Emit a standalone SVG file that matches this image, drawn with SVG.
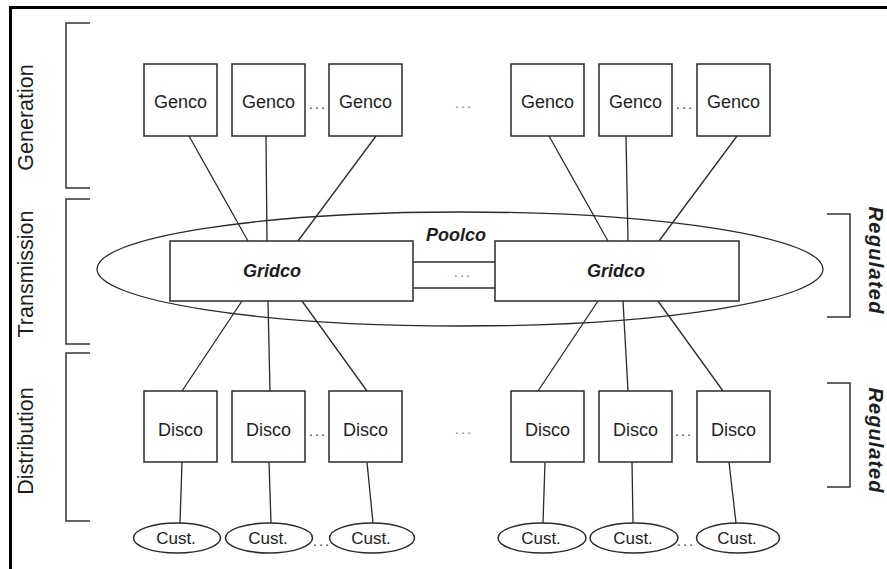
<svg xmlns="http://www.w3.org/2000/svg" width="887" height="569" viewBox="0 0 887 569">
<style>
.box{fill:#fff;stroke:#2a2a2a;stroke-width:1.5}
.ln{stroke:#2a2a2a;stroke-width:1.3;fill:none}
.br{stroke:#333;stroke-width:1.5;fill:none}
.t{font-family:"Liberation Sans",Arial,sans-serif;font-size:18px;fill:#1e1e1e;text-anchor:middle}
.bi{font-family:"Liberation Sans",Arial,sans-serif;font-size:18px;font-weight:bold;font-style:italic;fill:#1e1e1e;text-anchor:middle}
.side{font-family:"Liberation Sans",Arial,sans-serif;font-size:21.5px;fill:#1e1e1e;text-anchor:middle}
.dots{font-family:"Liberation Sans",Arial,sans-serif;font-size:15px;fill:#444;text-anchor:middle;letter-spacing:2px}
.dotsl{font-family:"Liberation Sans",Arial,sans-serif;font-size:15px;fill:#888;text-anchor:middle;letter-spacing:2px}
</style>
<rect width="887" height="569" fill="#fff"/>
<path d="M10.5,575 V7.5 H895" fill="none" stroke="#000" stroke-width="3"/>

<!-- side brackets and labels -->
<g id="brackets">
<path class="br" d="M90,23 H66 V188 H90"/>
<path class="br" d="M90,199 H66 V344 H90"/>
<path class="br" d="M90,353 H66 V521 H90"/>
<path class="br" d="M827,214 H850 V317 H827"/>
<path class="br" d="M827,383 H850 V487 H827"/>
</g>
<text class="side" transform="translate(33,117.5) rotate(-90)">Generation</text>
<text class="side" transform="translate(33,274) rotate(-90)">Transmission</text>
<text class="side" transform="translate(33,441) rotate(-90)">Distribution</text>
<text class="bi" font-size="20" textLength="107" transform="translate(869,260) rotate(90)" style="font-size:20px">Regulated</text>
<text class="bi" font-size="20" textLength="105" transform="translate(869,440) rotate(90)" style="font-size:20px">Regulated</text>

<!-- Poolco ellipse -->
<g id="poolco">
<ellipse cx="460" cy="269" rx="363" ry="57" fill="none" stroke="#2a2a2a" stroke-width="1.3"/>
<text class="bi" x="456" y="241">Poolco</text>
</g>

<!-- connectors -->
<g id="connectors">
<line class="ln" x1="189" y1="136" x2="248" y2="241"/>
<line class="ln" x1="266" y1="136" x2="267" y2="241"/>
<line class="ln" x1="376" y1="136" x2="298" y2="241"/>
<line class="ln" x1="549" y1="136" x2="608" y2="241"/>
<line class="ln" x1="626" y1="136" x2="628" y2="241"/>
<line class="ln" x1="737" y1="136" x2="659" y2="241"/>
<line class="ln" x1="242" y1="301" x2="182" y2="391"/>
<line class="ln" x1="268" y1="301" x2="270" y2="391"/>
<line class="ln" x1="302" y1="301" x2="367" y2="391"/>
<line class="ln" x1="598" y1="301" x2="538" y2="391"/>
<line class="ln" x1="623" y1="301" x2="628" y2="391"/>
<line class="ln" x1="658" y1="301" x2="723" y2="391"/>
<line class="ln" x1="413" y1="262" x2="495" y2="262"/>
<line class="ln" x1="413" y1="288" x2="495" y2="288"/>
<line class="ln" x1="182" y1="462" x2="180" y2="523"/>
<line class="ln" x1="269" y1="462" x2="271" y2="523"/>
<line class="ln" x1="367" y1="462" x2="373" y2="523"/>
<line class="ln" x1="545" y1="462" x2="543" y2="523"/>
<line class="ln" x1="632" y1="462" x2="633" y2="523"/>
<line class="ln" x1="729" y1="462" x2="736" y2="523"/>
</g>

<!-- Gencos -->
<g id="genco1"><rect class="box" x="144" y="64" width="73" height="72"/><text class="t" x="180.5" y="108">Genco</text></g>
<g id="genco2"><rect class="box" x="232" y="64" width="73" height="72"/><text class="t" x="268.5" y="108">Genco</text></g>
<g id="genco3"><rect class="box" x="329" y="64" width="73" height="72"/><text class="t" x="365.5" y="108">Genco</text></g>
<g id="genco4"><rect class="box" x="511" y="64" width="73" height="72"/><text class="t" x="547.5" y="108">Genco</text></g>
<g id="genco5"><rect class="box" x="599" y="64" width="73" height="72"/><text class="t" x="635.5" y="108">Genco</text></g>
<g id="genco6"><rect class="box" x="697" y="64" width="73" height="72"/><text class="t" x="733.5" y="108">Genco</text></g>

<!-- Gridcos -->
<g id="gridco1"><rect class="box" x="170" y="241" width="243" height="60"/><text class="bi" x="272" y="277">Gridco</text></g>
<g id="gridco2"><rect class="box" x="495" y="241" width="244" height="60"/><text class="bi" x="616" y="277">Gridco</text></g>

<!-- Discos -->
<g id="disco1"><rect class="box" x="144" y="391" width="73" height="71"/><text class="t" x="180.5" y="436">Disco</text></g>
<g id="disco2"><rect class="box" x="232" y="391" width="73" height="71"/><text class="t" x="268.5" y="436">Disco</text></g>
<g id="disco3"><rect class="box" x="329" y="391" width="73" height="71"/><text class="t" x="365.5" y="436">Disco</text></g>
<g id="disco4"><rect class="box" x="511" y="391" width="73" height="71"/><text class="t" x="547.5" y="436">Disco</text></g>
<g id="disco5"><rect class="box" x="599" y="391" width="73" height="71"/><text class="t" x="635.5" y="436">Disco</text></g>
<g id="disco6"><rect class="box" x="697" y="391" width="73" height="71"/><text class="t" x="733.5" y="436">Disco</text></g>

<!-- Customers -->
<g id="cust1"><ellipse class="box" cx="177" cy="538" rx="43.5" ry="15"/><text class="t" x="176" y="544" style="font-size:17px">Cust.</text></g>
<g id="cust2"><ellipse class="box" cx="269" cy="538" rx="43.5" ry="15"/><text class="t" x="268" y="544" style="font-size:17px">Cust.</text></g>
<g id="cust3"><ellipse class="box" cx="372" cy="538" rx="42.5" ry="15"/><text class="t" x="371" y="544" style="font-size:17px">Cust.</text></g>
<g id="cust4"><ellipse class="box" cx="542" cy="538" rx="44" ry="15"/><text class="t" x="541" y="544" style="font-size:17px">Cust.</text></g>
<g id="cust5"><ellipse class="box" cx="634" cy="538" rx="44" ry="15"/><text class="t" x="633" y="544" style="font-size:17px">Cust.</text></g>
<g id="cust6"><ellipse class="box" cx="738" cy="538" rx="41.5" ry="15"/><text class="t" x="737" y="544" style="font-size:17px">Cust.</text></g>

<!-- ellipsis dots -->
<g id="dots">
<text class="dots" x="318" y="109">...</text>
<text class="dotsl" x="464" y="108">...</text>
<text class="dots" x="685" y="109">...</text>
<text class="dotsl" x="463" y="277">...</text>
<text class="dots" x="318" y="436">...</text>
<text class="dotsl" x="464" y="434">...</text>
<text class="dots" x="684" y="436">...</text>
<text class="dots" x="322" y="546">...</text>
<text class="dots" x="686" y="546">...</text>
</g>
</svg>
